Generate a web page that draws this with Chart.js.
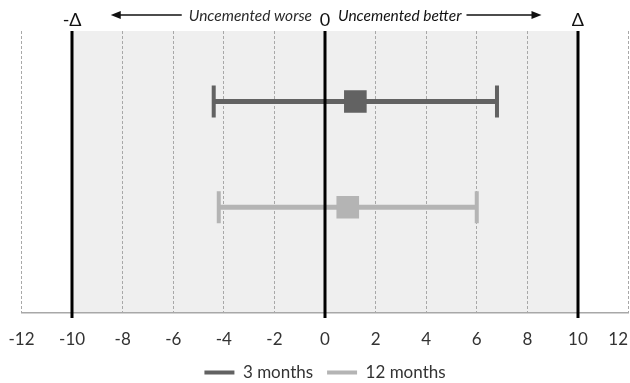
<!DOCTYPE html>
<html>
<head>
<meta charset="utf-8">
<script src="https://cdn.jsdelivr.net/npm/chart.js@4"></script>
<style>
  html, body { margin: 0; padding: 0; background: #fff; overflow: hidden; }
  canvas { display: block; }
</style>
</head>
<body>
<canvas id="chart" width="630" height="383"></canvas>
<script>
// data
const series = ['3 months', '12 months'];
const means = [1.2, 0.9];
const lower = [-4.4, -4.2];
const upper = [6.8, 6.0];
const rowLevel = [3, 1.5];              // vertical slot of each row (y from 0 to 4)
const xTicks = [-12, -10, -8, -6, -4, -2, 0, 2, 4, 6, 8, 10, 12];
const marginLines = [-10, 0, 10];
const marginLabels = ['-Δ', '0', 'Δ'];
const directionLabels = ['Uncemented worse', 'Uncemented better'];

const colors = ['#626262', '#b4b4b4'];
const FONT = 'Lato, "Open Sans", sans-serif';

// shading, error bars, margin lines and the text around the plot
const forestPlugin = {
  id: 'forest',
  beforeDraw(chart) {
    const { ctx, chartArea: a, scales: { x } } = chart;
    const l = x.getPixelForValue(marginLines[0]);
    const r = x.getPixelForValue(marginLines[marginLines.length - 1]);
    ctx.save();
    ctx.fillStyle = '#efefef';
    ctx.fillRect(l, a.top, r - l, a.bottom - a.top);
    ctx.restore();
  },
  beforeDatasetsDraw(chart) {
    const { ctx, chartArea: a, scales: { x, y } } = chart;
    ctx.save();
    // error bars
    series.forEach((s, i) => {
      const yp = y.getPixelForValue(rowLevel[i]);
      const x0 = x.getPixelForValue(lower[i]);
      const x1 = x.getPixelForValue(upper[i]);
      ctx.strokeStyle = colors[i];
      ctx.lineWidth = 5;
      ctx.beginPath();
      ctx.moveTo(x0, yp);
      ctx.lineTo(x1, yp);
      ctx.stroke();
      ctx.lineWidth = 4;
      ctx.beginPath();
      ctx.moveTo(x0, yp - 16); ctx.lineTo(x0, yp + 16);
      ctx.moveTo(x1, yp - 16); ctx.lineTo(x1, yp + 16);
      ctx.stroke();
    });
    // -Δ / 0 / Δ lines
    ctx.strokeStyle = '#000';
    ctx.lineWidth = 3;
    marginLines.forEach(v => {
      const xp = Math.round(x.getPixelForValue(v));
      ctx.beginPath();
      ctx.moveTo(xp, a.top);
      ctx.lineTo(xp, a.bottom + 5);
      ctx.stroke();
    });
    ctx.restore();
  },
  afterDraw(chart) {
    const { ctx, chartArea: a, scales: { x } } = chart;
    const W = chart.width;
    ctx.save();

    // x tick labels (kept inside the canvas like the original)
    ctx.font = '17px ' + FONT;
    ctx.fillStyle = '#333';
    ctx.textBaseline = 'middle';
    ctx.textAlign = 'center';
    xTicks.forEach(v => {
      const label = String(v);
      const w = ctx.measureText(label).width;
      let xp = x.getPixelForValue(v);
      xp = Math.min(Math.max(xp, w / 2 + 2), W - w / 2 - 2);
      ctx.fillText(label, xp, a.bottom + 27);
    });

    // -Δ 0 Δ
    ctx.fillStyle = '#111';
    ctx.textBaseline = 'alphabetic';
    ctx.font = '18px ' + FONT;
    marginLines.forEach((v, i) => {
      ctx.fillText(marginLabels[i], x.getPixelForValue(v), 26);
    });

    // direction text with arrows
    const x0 = x.getPixelForValue(0);
    ctx.font = 'italic 15.5px ' + FONT;
    ctx.fillStyle = '#2a2a2a';
    ctx.strokeStyle = '#111';
    ctx.lineWidth = 1.5;
    const ty = 21;

    ctx.textAlign = 'right';
    ctx.fillText(directionLabels[0], x0 - 13, ty);
    const leftEdge = x0 - 13 - ctx.measureText(directionLabels[0]).width;
    drawArrow(ctx, leftEdge - 7, leftEdge - 78, 15);

    ctx.textAlign = 'left';
    ctx.fillText(directionLabels[1], x0 + 13, ty);
    const rightEdge = x0 + 13 + ctx.measureText(directionLabels[1]).width;
    drawArrow(ctx, rightEdge + 5, rightEdge + 80, 15);

    ctx.restore();
  }
};

function drawArrow(ctx, from, to, yp) {
  const dir = Math.sign(to - from);
  ctx.beginPath();
  ctx.moveTo(from, yp);
  ctx.lineTo(to - dir * 8, yp);
  ctx.stroke();
  ctx.beginPath();
  ctx.moveTo(to, yp);
  ctx.lineTo(to - dir * 10, yp - 4);
  ctx.lineTo(to - dir * 10, yp + 4);
  ctx.closePath();
  ctx.fillStyle = '#111';
  ctx.fill();
}

const datasets = series.map((s, i) => ({
  label: s,
  data: [{ x: means[i], y: rowLevel[i] }],
  pointStyle: 'rect',
  pointRadius: 16,
  backgroundColor: colors[i],
  borderColor: colors[i],
  borderWidth: 0
}));

new Chart(document.getElementById('chart'), {
  type: 'scatter',
  data: { datasets },
  options: {
    responsive: false,
    animation: false,
    events: [],
    layout: { autoPadding: false, padding: { left: 21.5, right: 1.5, top: 31, bottom: -8 } },
    plugins: {
      tooltip: { enabled: false },
      legend: {
        position: 'bottom',
        labels: {
          boxWidth: 30,
          boxHeight: 4,
          padding: 14,
          color: '#333',
          font: { family: FONT, size: 17 }
        }
      }
    },
    scales: {
      x: {
        type: 'linear',
        min: -12,
        max: 12,
        ticks: { stepSize: 2, display: false },
        grid: { color: '#a8a8a8', lineWidth: 1, drawTicks: false },
        border: { color: '#a8a8a8', width: 1.5, dash: [3, 2] },
        afterFit(scale) { scale.height = 37; }
      },
      y: {
        display: false,
        min: 0,
        max: 4
      }
    }
  },
  plugins: [forestPlugin]
});
</script>
</body>
</html>
